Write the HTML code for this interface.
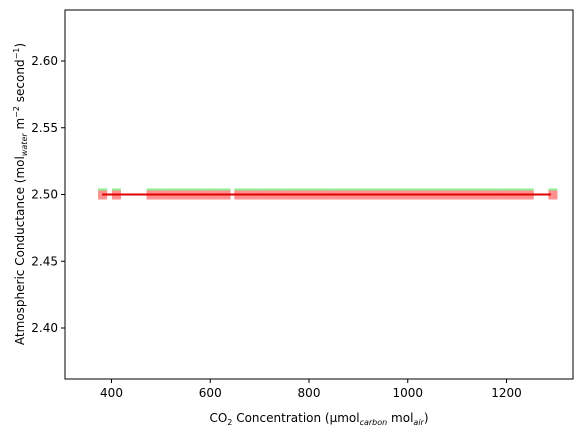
<!DOCTYPE html>
<html><head><meta charset="utf-8"><style>
body{margin:0;background:#fff;font-family:"Liberation Sans","DejaVu Sans",sans-serif}
</style></head><body>
<svg id="c" width="583" height="436" xmlns="http://www.w3.org/2000/svg" font-family="'DejaVu Sans','Liberation Sans',sans-serif">
<g id="marks"></g>
<rect x="65" y="10" width="508" height="369" fill="none" stroke="#000" stroke-width="1"/>
<g id="ax" font-size="12" fill="#000"></g>
<text x="319" y="422" text-anchor="middle" font-size="12">CO<tspan font-size="8" dy="3">2</tspan><tspan dy="-3"> Concentration (µmol</tspan><tspan font-size="8" dy="3" font-style="italic">carbon</tspan><tspan dy="-3"> mol</tspan><tspan font-size="8" dy="3" font-style="italic">air</tspan><tspan dy="-3">)</tspan></text>
<text transform="translate(24,194) rotate(-90)" text-anchor="middle" font-size="12">Atmospheric Conductance (mol<tspan font-size="8" dy="3" font-style="italic">water</tspan><tspan dy="-3"> m</tspan><tspan font-size="8" dy="-5">−2</tspan><tspan dy="5"> second</tspan><tspan font-size="8" dy="-5">−1</tspan><tspan dy="5">)</tspan></text>
</svg>
<script>
const co2 = [382,410,480,496,514,530,546,562,580,598,614,632,658,674,690,708,724,740,758,774,790,806,822,838,856,872,888,904,920,936,952,968,984,1000,1016,1032,1050,1066,1082,1098,1114,1130,1146,1162,1178,1196,1212,1228,1246,1294];
const conductance = co2.map(()=>2.5);
const fitX = [381, 1290];
const fitY = [2.5, 2.5];
const xTicks = [400,600,800,1000,1200];
const yTicks = [2.40,2.45,2.50,2.55,2.60];
const X = v => 111.5 + (v-400)*395/800;
const Y = v => 194.5 - (v-2.5)*1335;
const NS='http://www.w3.org/2000/svg';
const marks=document.getElementById('marks'), ax=document.getElementById('ax');
function mk(t,a,p){const e=document.createElementNS(NS,t);for(const k in a)e.setAttribute(k,a[k]);p.appendChild(e);return e;}
co2.forEach((v,i)=>{const e=mk('rect',{x:X(v)-4.5,y:Y(conductance[i])-6,width:9,height:9,fill:'#90ee90'},marks);

});
co2.forEach((v,i)=>{const e=mk('rect',{x:X(v)-4.5,y:Y(conductance[i])-4,width:9,height:9,fill:'#ff9090'},marks);

});
const ln=mk('line',{x1:X(fitX[0]),y1:Y(fitY[0]),x2:X(fitX[1]),y2:Y(fitY[1]),stroke:'#e00000','stroke-width':2},marks);


xTicks.forEach(t=>{mk('line',{x1:X(t),x2:X(t),y1:379,y2:383,stroke:'#000'},ax);
const e=mk('text',{x:X(t),y:397,'text-anchor':'middle'},ax);e.textContent=t;

});
yTicks.forEach(t=>{mk('line',{x1:61,x2:65,y1:Y(t),y2:Y(t),stroke:'#000'},ax);
const e=mk('text',{x:58,y:Y(t)+4,'text-anchor':'end'},ax);e.textContent=t.toFixed(2);

});
</script>
</body></html>
